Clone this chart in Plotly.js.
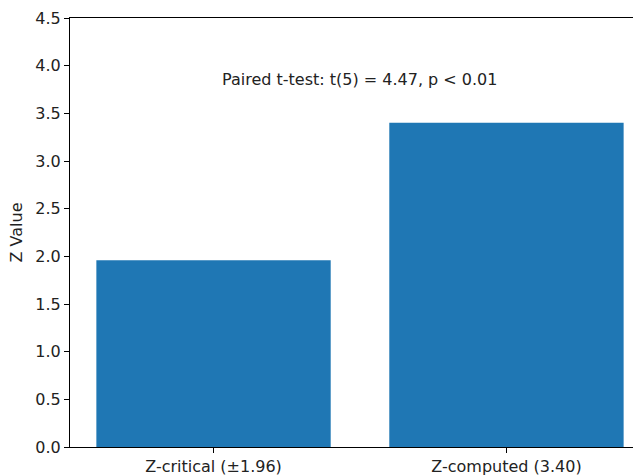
<!DOCTYPE html>
<html>
<head>
<meta charset="utf-8">
<script src="https://cdn.plot.ly/plotly-3.0.1.min.js"></script>
<style>html,body{margin:0;padding:0;background:#fff;}#chart{width:633px;height:476px;}</style>
</head>
<body>
<div id="chart"></div>
<script>
const categories = ["Z-critical (±1.96)", "Z-computed (3.40)"];
const zValues = [1.96, 3.40];
const yTicks = [0, 0.5, 1.0, 1.5, 2.0, 2.5, 3.0, 3.5, 4.0, 4.5];
const annotationText = "Paired t-test: t(5) = 4.47, p < 0.01";

const font = {family: "DejaVu Sans", size: 16, color: "#222"};

Plotly.newPlot("chart", [{
  type: "bar",
  x: [0, 1],
  y: zValues,
  width: 0.8,
  marker: {color: "#1f77b4"},
  hoverinfo: "skip"
}], {
  width: 633, height: 476,
  margin: {l: 70, r: 0, t: 18, b: 29},
  paper_bgcolor: "#fff", plot_bgcolor: "#fff",
  font: font,
  showlegend: false,
  xaxis: {
    range: [-0.49, 1.432],
    tickvals: [0, 1],
    ticktext: categories,
    showgrid: false, zeroline: false,
    showline: true, linecolor: "#000", linewidth: 1, mirror: true,
    ticks: "outside", ticklen: 5, tickcolor: "#000",
    tickfont: font
  },
  yaxis: {
    range: [0, 4.5],
    tickvals: yTicks,
    ticktext: yTicks.map(v => v.toFixed(1)),
    showgrid: false, zeroline: false,
    showline: true, linecolor: "#000", linewidth: 1, mirror: false,
    ticks: "outside", ticklen: 5, tickcolor: "#000",
    tickfont: font,
    title: {text: "Z Value", font: font, standoff: 8}
  },
  annotations: [{
    x: 0.5, y: 3.85, xref: "x", yref: "y",
    text: annotationText, showarrow: false,
    font: font, xanchor: "center", yanchor: "middle"
  }]
}, {displayModeBar: false, staticPlot: true});
</script>
</body>
</html>
